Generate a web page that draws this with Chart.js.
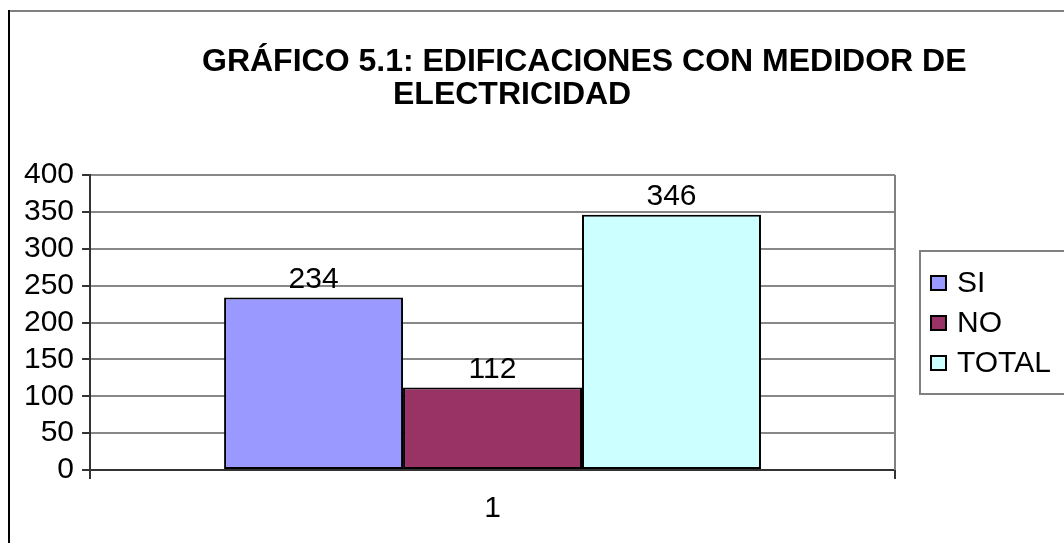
<!DOCTYPE html>
<html>
<head>
<meta charset="utf-8">
<script src="https://cdn.jsdelivr.net/npm/chart.js@4"></script>
<style>
html,body{margin:0;padding:0;background:#fff;}
#wrap{width:1064px;height:543px;position:relative;}
</style>
</head>
<body>
<div id="wrap"><canvas id="c" width="1064" height="543"></canvas></div>
<script>
const categories = ['1'];
const seriesNames = ['SI', 'NO', 'TOTAL'];
const siValues = [234];
const noValues = [112];
const totalValues = [346];
const seriesColors = ['#9999FF', '#993366', '#CCFFFF'];
const titleLines = ['GRÁFICO 5.1: EDIFICACIONES CON MEDIDOR DE', 'ELECTRICIDAD'];
const yMin = 0, yMax = 400, yStep = 50;

const FONT = '"Liberation Sans", Arial, sans-serif';

const decorPlugin = {
  id: 'decor',
  beforeDraw(chart) {
    const ctx = chart.ctx;
    ctx.save();
    ctx.fillStyle = '#fff';
    ctx.fillRect(0, 0, chart.width, chart.height);
    ctx.strokeStyle = '#808080';
    ctx.lineWidth = 2;
    ctx.beginPath(); ctx.moveTo(8, 11); ctx.lineTo(chart.width, 11); ctx.stroke();
    ctx.strokeStyle = '#000';
    ctx.beginPath(); ctx.moveTo(9, 10); ctx.lineTo(9, chart.height); ctx.stroke();
    ctx.fillStyle = '#000';
    ctx.font = 'bold 32px ' + FONT;
    ctx.textBaseline = 'alphabetic';
    ctx.textAlign = 'left';
    ctx.fillText(titleLines[0], 202, 71);
    ctx.fillText(titleLines[1], 393, 104);
    ctx.restore();
  },
  beforeDatasetsDraw(chart) {
    const a = chart.chartArea, ctx = chart.ctx;
    ctx.save();
    ctx.strokeStyle = '#808080';
    ctx.lineWidth = 2;
    ctx.beginPath(); ctx.moveTo(a.right, a.top); ctx.lineTo(a.right, a.bottom); ctx.stroke();
    ctx.restore();
  },
  afterDatasetsDraw(chart) {
    const ctx = chart.ctx;
    ctx.save();
    ctx.fillStyle = '#000';
    ctx.font = '30px ' + FONT;
    ctx.textAlign = 'center';
    ctx.textBaseline = 'bottom';
    chart.data.datasets.forEach((ds, i) => {
      const meta = chart.getDatasetMeta(i);
      meta.data.forEach((bar, j) => {
        ctx.fillText(String(ds.data[j]), bar.x, bar.y - 3);
      });
    });
    const lx = 920, ly = 251, lh = 143;
    ctx.strokeStyle = '#808080';
    ctx.lineWidth = 2;
    ctx.strokeRect(lx, ly, chart.width - lx + 5, lh);
    ctx.textAlign = 'left';
    ctx.textBaseline = 'middle';
    ctx.font = '30px ' + FONT;
    chart.data.datasets.forEach((ds, i) => {
      const cy = 283 + i * 40;
      ctx.fillStyle = ds.backgroundColor;
      ctx.fillRect(931, cy - 7, 15, 14);
      ctx.strokeStyle = '#000';
      ctx.lineWidth = 2;
      ctx.strokeRect(931, cy - 7, 15, 14);
      ctx.fillStyle = '#000';
      ctx.fillText(ds.label, 957, cy + 1);
    });
    ctx.restore();
  }
};

const datasetValues = [siValues, noValues, totalValues];
new Chart(document.getElementById('c'), {
  type: 'bar',
  data: {
    labels: categories,
    datasets: seriesNames.map((name, i) => ({
      label: name,
      data: datasetValues[i],
      backgroundColor: seriesColors[i],
      borderColor: '#000',
      borderWidth: 2,
      borderSkipped: false,
      categoryPercentage: 0.667,
      barPercentage: 1.0
    }))
  },
  options: {
    responsive: false,
    animation: false,
    events: [],
    layout: { padding: { top: 175, right: 169, bottom: 4, left: 16 } },
    plugins: { legend: { display: false }, title: { display: false }, tooltip: { enabled: false } },
    scales: {
      x: {
        offset: true,
        grid: { display: true, drawOnChartArea: false, drawTicks: true, tickLength: 9, color: '#333', lineWidth: 2 },
        border: { display: true, color: '#333', width: 2 },
        ticks: { font: { size: 30, family: FONT }, color: '#000', padding: 12 }
      },
      y: {
        min: yMin, max: yMax,
        grid: { color: '#888', lineWidth: 2, tickLength: 8, tickColor: '#333', tickWidth: 2 },
        border: { display: true, color: '#333', width: 2 },
        ticks: { stepSize: yStep, autoSkip: false, font: { size: 30, family: FONT, lineHeight: 1.0 }, color: '#000', padding: 8 }
      }
    }
  },
  plugins: [decorPlugin]
});
</script>
</body>
</html>
